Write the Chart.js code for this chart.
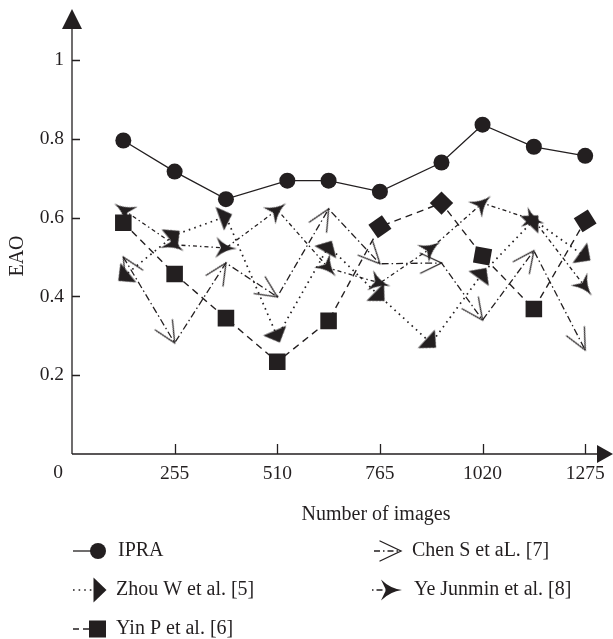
<!DOCTYPE html>
<html><head><meta charset="utf-8">
<script src="https://cdn.jsdelivr.net/npm/chart.js@4.4.1/dist/chart.umd.min.js"></script>
<style>html,body{margin:0;padding:0;background:#fff;overflow:hidden}#wrap{width:613px;height:639px;position:relative}</style>
</head><body><div id="wrap"><canvas id="c" width="613" height="639"></canvas></div>
<script>
// ---- data ----
const xTickValues = [0, 255, 510, 765, 1020, 1275];
const yTickValues = [0.2, 0.4, 0.6, 0.8, 1];
const seriesNames = ['IPRA', 'Zhou W et al. [5]', 'Yin P et al. [6]', 'Chen S et aL. [7]', 'Ye Junmin et al. [8]'];
const ipraX  = [127.5, 255, 382.5, 535, 637.5, 765, 918, 1020, 1147.5, 1275];
const ipraEAO = [0.796, 0.717, 0.647, 0.694, 0.694, 0.666, 0.740, 0.836, 0.780, 0.757];
const zhouX  = [127.5, 255, 382.5, 510, 637.5, 765, 892.5, 1020, 1147.5, 1275];
const zhouEAO = [0.450, 0.556, 0.603, 0.298, 0.527, 0.400, 0.281, 0.459, 0.594, 0.501];
const yinX   = [127.5, 255, 382.5, 510, 637.5, 765, 918, 1020, 1147.5, 1275];
const yinEAO  = [0.587, 0.457, 0.345, 0.234, 0.338, 0.577, 0.637, 0.503, 0.368, 0.592];
const chenX  = [127.5, 255, 382.5, 510, 637.5, 765, 918, 1020, 1147.5, 1275];
const chenEAO = [0.500, 0.282, 0.485, 0.399, 0.622, 0.483, 0.485, 0.340, 0.516, 0.264];
const yeX    = [127.5, 255, 382.5, 510, 637.5, 765, 892.5, 1020, 1147.5, 1275];
const yeEAO   = [0.620, 0.531, 0.523, 0.620, 0.472, 0.434, 0.523, 0.637, 0.594, 0.424];

// ---- styles ----
const INK = '#231f20';
const FONT = "'Liberation Serif', 'DejaVu Serif', serif";
const TICK_SIZE = 19.5, TEXT_SIZE = 20;
const yinRotation = [0, 0, 0, 0, 0, -35, 45, 10, 0, -32];

function makeCanvas(w, h, draw) {
  const c = document.createElement('canvas');
  c.width = w; c.height = h;
  const g = c.getContext('2d');
  g.translate(w / 2, h / 2);
  draw(g);
  return c;
}
// filled right-angled triangle, pointing right, centred
const triMarker = makeCanvas(28, 28, g => {
  g.fillStyle = INK; g.beginPath();
  g.moveTo(6.5, 0); g.lineTo(-6.5, -12.5); g.lineTo(-6.5, 12.5); g.closePath(); g.fill();
});
// concave arrowhead, pointing right, centred
const yeMarker = makeCanvas(28, 28, g => {
  g.fillStyle = INK; g.beginPath();
  g.moveTo(11, 0);
  g.quadraticCurveTo(-1, -1.5, -10, -10.5);
  g.lineTo(-5, 0);
  g.lineTo(-10, 10.5);
  g.quadraticCurveTo(-1, 1.5, 11, 0);
  g.closePath(); g.fill();
});
// open arrow, tip at canvas centre, pointing right
const chenMarker = makeCanvas(50, 50, g => {
  g.strokeStyle = INK; g.lineWidth = 1.3; g.lineCap = 'round'; g.beginPath();
  g.moveTo(-21, -10); g.lineTo(0, 0); g.lineTo(-21, 10); g.stroke();
});

function dirAngle(ctx) {
  if (ctx.type !== 'data') return 0;
  const ch = ctx.chart, i = ctx.dataIndex, d = ctx.dataset.data;
  const xs = ch.scales.x, ys = ch.scales.y;
  const a = i === 0 ? d[1] : d[i - 1];
  const b = i === 0 ? d[0] : d[i];
  const dx = xs.getPixelForValue(b.x) - xs.getPixelForValue(a.x);
  const dy = ys.getPixelForValue(b.y) - ys.getPixelForValue(a.y);
  return Math.atan2(dy, dx) * 180 / Math.PI;
}
const pts = (xs, ys) => xs.map((x, i) => ({x, y: ys[i]}));

const axisPlugin = {
  id: 'axisDecor',
  beforeDatasetsDraw(chart) {
    const {ctx, scales: {x, y}} = chart;
    const ox = x.getPixelForValue(0), oy = y.getPixelForValue(0);
    ctx.save();
    ctx.strokeStyle = INK; ctx.fillStyle = INK; ctx.lineWidth = 1.3;
    ctx.beginPath();
    ctx.moveTo(ox, oy); ctx.lineTo(ox, 20);
    ctx.moveTo(ox, oy); ctx.lineTo(603, oy);
    yTickValues.forEach(v => { const p = Math.round(y.getPixelForValue(v)) + 0.5; ctx.moveTo(ox, p); ctx.lineTo(ox + 8, p); });
    xTickValues.slice(1).forEach(v => { const p = Math.round(x.getPixelForValue(v)) + 0.5; ctx.moveTo(p, oy); ctx.lineTo(p, oy - 10); });
    ctx.stroke();
    ctx.beginPath(); ctx.moveTo(ox, 9); ctx.lineTo(ox - 10, 29); ctx.lineTo(ox + 10, 29); ctx.closePath(); ctx.fill();
    ctx.beginPath(); ctx.moveTo(613, oy); ctx.lineTo(597, oy - 9); ctx.lineTo(597, oy + 9); ctx.closePath(); ctx.fill();
    ctx.restore();
  },
  afterDraw(chart) {
    const {ctx} = chart;
    ctx.save();
    ctx.fillStyle = INK; ctx.strokeStyle = INK;
    ctx.textBaseline = 'middle'; ctx.textAlign = 'center';
    ctx.font = TICK_SIZE + 'px ' + FONT;
    ctx.fillText('0', 58, 473);
    ctx.font = TEXT_SIZE + 'px ' + FONT;
    ctx.fillText('Number of images', 376, 515);
    ctx.save(); ctx.translate(18, 256); ctx.rotate(-Math.PI / 2); ctx.fillText('EAO', 0, 0); ctx.restore();

    // legend
    ctx.textAlign = 'left';
    const rows = [551, 590, 629];
    const seg = (x1, x2, yy, dash, w) => { ctx.save(); ctx.lineWidth = w; ctx.setLineDash(dash); ctx.beginPath(); ctx.moveTo(x1, yy); ctx.lineTo(x2, yy); ctx.stroke(); ctx.restore(); };
    const img = (c, cx, cy) => ctx.drawImage(c, cx - c.width / 2, cy - c.height / 2);
    // IPRA
    seg(73, 96, rows[0], [], 1.3);
    ctx.beginPath(); ctx.arc(98, rows[0], 8, 0, Math.PI * 2); ctx.fill();
    ctx.fillText(seriesNames[0], 118, rows[0]);
    // Zhou
    seg(73, 94, rows[1], [1.6, 4], 1.6);
    img(triMarker, 100, rows[1]);
    ctx.fillText(seriesNames[1], 116, rows[1]);
    // Yin
    seg(73, 90, rows[2], [6, 4], 1.4);
    ctx.fillRect(89, rows[2] - 8.5, 17, 17);
    ctx.fillText(seriesNames[2], 116, rows[2]);
    // Chen
    seg(374, 400, rows[0], [6, 3, 1.5, 3], 1.3);
    img(chenMarker, 401, rows[0]);
    ctx.fillText(seriesNames[3], 412, rows[0]);
    // Ye
    seg(372, 392, rows[1], [1.5, 3, 6, 3], 1.3);
    img(yeMarker, 391, rows[1]);
    ctx.fillText(seriesNames[4], 414, rows[1]);
    ctx.restore();
  }
};

new Chart(document.getElementById('c'), {
  type: 'line',
  data: {
    datasets: [
      { label: seriesNames[0], data: pts(ipraX, ipraEAO), borderColor: INK, backgroundColor: INK, borderWidth: 1.3,
        pointStyle: 'circle', pointRadius: 8, pointBorderWidth: 0 },
      { label: seriesNames[1], data: pts(zhouX, zhouEAO), borderColor: INK, backgroundColor: INK, borderWidth: 1.7,
        borderDash: [1.6, 4.2], pointStyle: triMarker, pointRadius: 10, pointRotation: dirAngle },
      { label: seriesNames[2], data: pts(yinX, yinEAO), borderColor: INK, backgroundColor: INK, borderWidth: 1.4,
        borderDash: [7, 5], pointStyle: 'rect', pointRadius: 11.7, pointBorderWidth: 0,
        pointRotation: ctx => yinRotation[ctx.dataIndex] || 0 },
      { label: seriesNames[3], data: pts(chenX, chenEAO), borderColor: INK, backgroundColor: INK, borderWidth: 1.3,
        borderDash: [7, 3, 1.5, 3], pointStyle: chenMarker, pointRadius: 10, pointRotation: dirAngle },
      { label: seriesNames[4], data: pts(yeX, yeEAO), borderColor: INK, backgroundColor: INK, borderWidth: 1.3,
        borderDash: [4, 3, 1.5, 3], pointStyle: yeMarker, pointRadius: 10, pointRotation: dirAngle }
    ]
  },
  options: {
    responsive: false, animation: false,
    layout: { padding: { top: 29, right: 13, left: 0, bottom: 0 } },
    plugins: { legend: { display: false }, tooltip: { enabled: false } },
    elements: { line: { tension: 0, fill: false } },
    scales: {
      x: { type: 'linear', min: 0, max: 1308,
        grid: { display: false, drawTicks: false }, border: { display: false },
        afterBuildTicks: s => { s.ticks = xTickValues.map(v => ({ value: v })); },
        afterFit: s => { s.height = 185; },
        ticks: { padding: 8, color: INK, font: { family: FONT, size: TICK_SIZE }, maxRotation: 0, autoSkip: false,
          callback: v => v === 0 ? '' : String(v) } },
      y: { type: 'linear', min: 0, max: 1.079,
        grid: { display: false, drawTicks: false }, border: { display: false },
        afterBuildTicks: s => { s.ticks = yTickValues.map(v => ({ value: v })); },
        afterFit: s => { s.width = 72; },
        ticks: { padding: 8, color: INK, font: { family: FONT, size: TICK_SIZE }, includeBounds: false,
          callback: v => String(+v.toFixed(1)) } }
    }
  },
  plugins: [axisPlugin]
});
</script></body></html>
